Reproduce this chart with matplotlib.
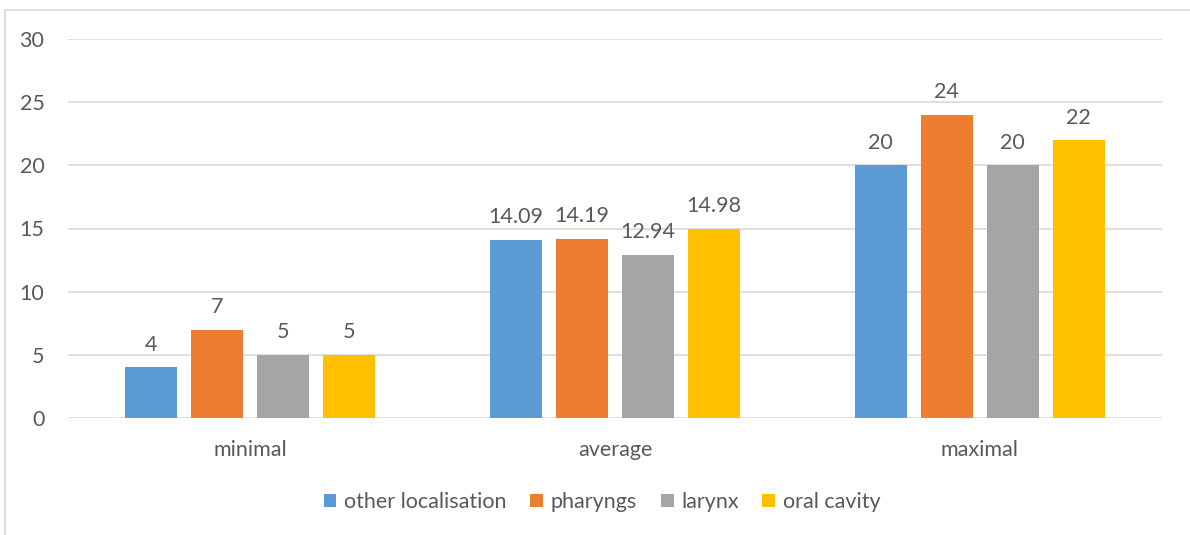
import matplotlib
matplotlib.use("Agg")
import matplotlib.pyplot as plt
from matplotlib.patches import Rectangle
import numpy as np

categories = ["minimal", "average", "maximal"]
series_names = ["other localisation", "pharyngs", "larynx", "oral cavity"]
other_localisation = [4, 14.09, 20]
pharyngs = [7, 14.19, 24]
larynx = [5, 12.94, 20]
oral_cavity = [5, 14.98, 22]
value_labels = [
    ["4", "14.09", "20"],
    ["7", "14.19", "24"],
    ["5", "12.94", "20"],
    ["5", "14.98", "22"],
]
y_ticks = [0, 5, 10, 15, 20, 25, 30]

series = [other_localisation, pharyngs, larynx, oral_cavity]
colors = ["#5B9BD5", "#ED7D31", "#A5A5A5", "#FFC000"]
text_color = "#595959"
grid_color = "#D9D9D9"
fs = 15.5

plt.rcParams["font.family"] = ["Lato", "DejaVu Sans"]

W, H = 1190, 535
fig = plt.figure(figsize=(W / 100, H / 100), dpi=100)
ax = fig.add_axes([68 / W, 1 - 418 / H, (1162 - 68) / W, (418 - 39) / H])

# outer chart frame
fig.patches.append(Rectangle((5 / W, -0.05), 1.2, (H - 10) / H + 0.05,
                             transform=fig.transFigure, fill=False,
                             edgecolor=grid_color, linewidth=1.2))

x = np.arange(len(categories))
bar_w = 0.143
pitch = 0.181
offsets = (np.arange(len(series)) - (len(series) - 1) / 2) * pitch

for i, (vals, col, name) in enumerate(zip(series, colors, series_names)):
    bars = ax.bar(x + offsets[i], vals, width=bar_w, color=col, label=name,
                  zorder=3)
    for b, lab in zip(bars, value_labels[i]):
        ax.annotate(lab, (b.get_x() + b.get_width() / 2, b.get_height()),
                    xytext=(0, 9), textcoords="offset points",
                    ha="center", va="bottom", fontsize=fs,
                    color=text_color)

ax.set_xlim(-0.5, len(categories) - 0.5)
ax.set_ylim(0, 30)
ax.set_yticks(y_ticks)
ax.set_yticklabels([str(t) for t in y_ticks])
ax.set_xticks(x)
ax.set_xticklabels(categories)
ax.tick_params(axis="both", length=0, labelsize=fs, labelcolor=text_color)
ax.tick_params(axis="y", pad=17)
ax.tick_params(axis="x", pad=15.5)
ax.yaxis.grid(True, color=grid_color, linewidth=1.2, zorder=0)
ax.set_axisbelow(True)
for s in ax.spines.values():
    s.set_visible(False)

leg = fig.legend(loc="center", bbox_to_anchor=(602 / W, 1 - 502 / H),
                 ncol=4, frameon=False, fontsize=fs, handlelength=0.6,
                 handleheight=0.6, handletextpad=0.35, columnspacing=1.1)
for t in leg.get_texts():
    t.set_color(text_color)

fig.savefig("out.png", dpi=100, facecolor="white")
